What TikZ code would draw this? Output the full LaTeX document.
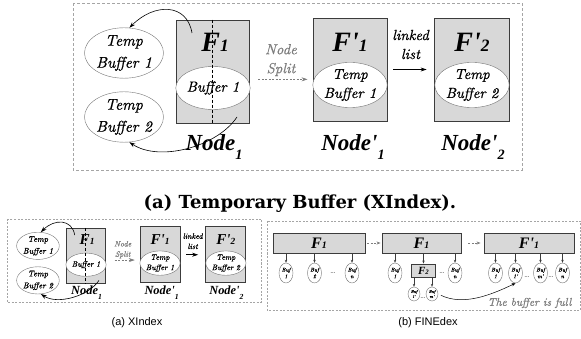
\documentclass[tikz,border=0pt]{standalone}
\usepackage{fontspec}
\newfontfamily\figfont{Liberation Serif}[Ligatures=TeXOff]
\newfontfamily\noteit{lmroman10-italic}[Extension=.otf, FakeBold=0.7, Ligatures=TeXOff]
\newfontfamily\capfont{DejaVu Serif}
\newfontfamily\subcapfont{Liberation Sans}
\usetikzlibrary{arrows.meta, positioning, shapes.geometric, calc}
\definecolor{boxgray}{RGB}{216, 216, 216}
\definecolor{boxline}{RGB}{60, 60, 60}
\definecolor{ringgray}{RGB}{115, 115, 115}
\definecolor{panelgray}{RGB}{165, 165, 165}
\definecolor{notegray}{RGB}{125, 125, 125}

% small index digit after F and Node
\newcommand\idx[2]{\raisebox{#1}{\scalebox{0.62}{#2}}}

\tikzset{
  fnode/.style={draw=boxline, fill=boxgray, line width=0.9pt},
  tempbuf/.style={ellipse, draw=ringgray, fill=white, inner sep=0pt, align=center,
    font=\noteit\fontsize{15.5}{22}\selectfont},
  innerbuf/.style={tempbuf, font=\noteit\fontsize{14.6}{19}\selectfont},
  flabel/.style={font=\figfont\bfseries\itshape\fontsize{28}{28}\selectfont},
  nodelabel/.style={font=\figfont\bfseries\itshape\fontsize{23}{23}\selectfont},
  note/.style={font=\noteit\fontsize{14.6}{19}\selectfont, align=center, inner sep=1pt},
  panel/.style={draw=panelgray, dash pattern=on 3pt off 2pt, line width=0.6pt},
  link/.style={-{Stealth[length=6pt, width=4pt]}, line width=0.6pt},
  splitlink/.style={link, draw=notegray, dash pattern=on 2pt off 1.5pt},
  cellbox/.style={fnode, minimum height=20pt, inner sep=0pt,
    font=\figfont\bfseries\itshape\fontsize{16}{16}\selectfont},
  bufcell/.style={ellipse, draw=ringgray, fill=white, minimum width=14pt, minimum height=20pt,
    inner sep=0pt, align=center, font=\noteit\fontsize{5.6}{6.5}\selectfont},
  subcell/.style={bufcell, minimum width=12pt, minimum height=14pt,
    font=\noteit\fontsize{4.2}{5}\selectfont},
  feed/.style={-{Stealth[length=3pt, width=2.4pt]}, line width=0.5pt, draw=boxline},
  ellip/.style={inner sep=0pt, font=\rmfamily\fontsize{8}{8}\selectfont},
  subcap/.style={font=\subcapfont\fontsize{11}{11}\selectfont},
  % XIndex panel, #1 = height of the Node labels
  xindex/.pic={
    \node[tempbuf, minimum width=77pt, minimum height=47pt] (-tb1) at (124,53) {Temp\\Buffer 1};
    \node[tempbuf, minimum width=77pt, minimum height=47pt] (-tb2) at (124,117) {Temp\\Buffer 2};
    \node[fnode, minimum width=73pt, minimum height=103pt] (-f1) at (212.5,71.5) {};
    \node[innerbuf, minimum width=67pt, minimum height=43pt] (-b1) at (213,88) {Buffer 1};
    \draw[densely dashed, line width=0.6pt] (-f1.north) -- (-f1.south);
    \node[flabel] (-f1lab) at (215,42) {F\idx{0pt}{1}};
    \node[nodelabel] (-n1) at (214,#1) {Node\idx{-0.4em}{1}};
    \coordinate (-up) at (192,33);
    \coordinate (-down) at (237,117);
    \draw[link] (-up) .. controls +(-5,-30) and +(25,-25) .. (-tb1.78);
    \draw[link] (-down) .. controls +(-20,30) and +(30,20) .. (-tb2.-78);
    \node[fnode, minimum width=74pt, minimum height=103pt] (-fp1) at (350,69.5) {};
    \node[flabel] (-fp1lab) at (350,42) {F'\idx{0pt}{1}};
    \node[innerbuf, minimum width=65pt, minimum height=44pt] (-tp1) at (350,85) {Temp\\Buffer 1};
    \node[fnode, minimum width=75pt, minimum height=103pt] (-fp2) at (471.5,69.5) {};
    \node[flabel] (-fp2lab) at (472,42) {F'\idx{0pt}{2}};
    \node[innerbuf, minimum width=65pt, minimum height=44pt] (-tp2) at (472,85) {Temp\\Buffer 2};
    \node[nodelabel] (-np1) at (353,#1) {Node'\idx{-0.4em}{1}};
    \node[nodelabel] (-np2) at (473,#1) {Node'\idx{-0.4em}{2}};
    \draw[splitlink, shorten <=9pt, shorten >=5pt] (-f1.-12) -- (-f1.-12 -| -fp1.west)
      node[note, midway, above=2pt, text=notegray] {Node\\Split};
    \draw[link, shorten <=6pt, shorten >=7pt] (-fp1.east) -- (-fp2.west)
      node[note, midway, above=9pt] {linked\\list};
  }
}

\begin{document}
\begin{tikzpicture}[x=1pt, y=-1pt]
  \useasboundingbox (0,0) rectangle (581,339);

  % large panel with its caption
  \draw[panel] (73,3) rectangle (522,170);
  \pic (main) at (0,0) {xindex=147};
  \node[font=\capfont\bfseries\fontsize{18}{18}\selectfont] (cap) at (300,204) {(a) Temporary Buffer (XIndex).};

  % the same panel, small
  \draw[panel, dash pattern=on 2pt off 1.5pt] (7,219) rectangle (261,302);
  \pic[scale=0.54, transform shape] (mini) at (-29,217.2) {xindex=139};
  \node[subcap] (capa) at (137,323) {(a) XIndex};

  % FINEdex
  \draw[panel, dash pattern=on 2pt off 1.5pt] (267,221) rectangle (580,310);
  \node[cellbox, minimum width=92pt] (fb1) at (319,243) {F\idx{0pt}{1}};
  \node[cellbox, minimum width=79pt] (fb2) at (421.5,243) {F\idx{0pt}{1}};
  \node[cellbox, minimum width=90pt] (fb3) at (529,243) {F'\idx{0pt}{1}};
  \draw[splitlink, -{Stealth[length=4pt, width=3pt]}, shorten <=2pt, shorten >=1pt] (fb1) -- (fb2);
  \draw[splitlink, -{Stealth[length=4pt, width=3pt]}, shorten <=7pt, shorten >=3pt] (fb2) -- (fb3);

  \foreach \name/\x/\lbl in {c11/286/1, c12/314.5/2, c1n/352/n, c21/395/1, c2n/455/n,
                             c31/495.5/1, c32/515.5/1', c3m/540.5/m', c3n/562.5/n} {
    \node[bufcell] (\name) at (\x,273) {Buf\\\lbl};
  }
  \foreach \name/\parent in {c11/fb1, c12/fb1, c1n/fb1, c21/fb2, c2n/fb2,
                             c31/fb3, c32/fb3, c3m/fb3, c3n/fb3} {
    \draw[feed] (\parent.south -| \name.north) -- (\name.north);
  }

  \node[fnode, minimum width=24pt, minimum height=13pt, inner sep=0pt,
        font=\figfont\bfseries\itshape\fontsize{11}{11}\selectfont] (f2) at (423.5,270.5) {F\idx{0pt}{2}};
  \draw[feed] (fb2.south -| f2.north) -- (f2.north);
  \node[subcell] (s1) at (414,294) {Buf\\1'};
  \node[subcell] (sm) at (432,294) {Buf\\m'};
  \draw[feed] (f2.south -| s1.north) -- (s1.north);
  \draw[feed] (f2.south -| sm.north) -- (sm.north);

  \foreach \name/\x/\y in {d1/333/273, d2/442/273, d3/527/277, d4/551/277, d5/423/298} {
    \node[ellip] (\name) at (\x,\y) {\dots};
  }

  \draw[line width=0.5pt, -{Stealth[length=4pt, width=3pt]}, shorten <=3pt]
    (sm.east) .. controls +(25,12) and +(-25,12) .. (c32.south);
  \node[note, text=notegray, font=\noteit\fontsize{11.3}{12}\selectfont] (full) at (529.5,303) {The buffer is full};
  \node[subcap] (capb) at (428,323) {(b) FINEdex};
\end{tikzpicture}
\end{document}
